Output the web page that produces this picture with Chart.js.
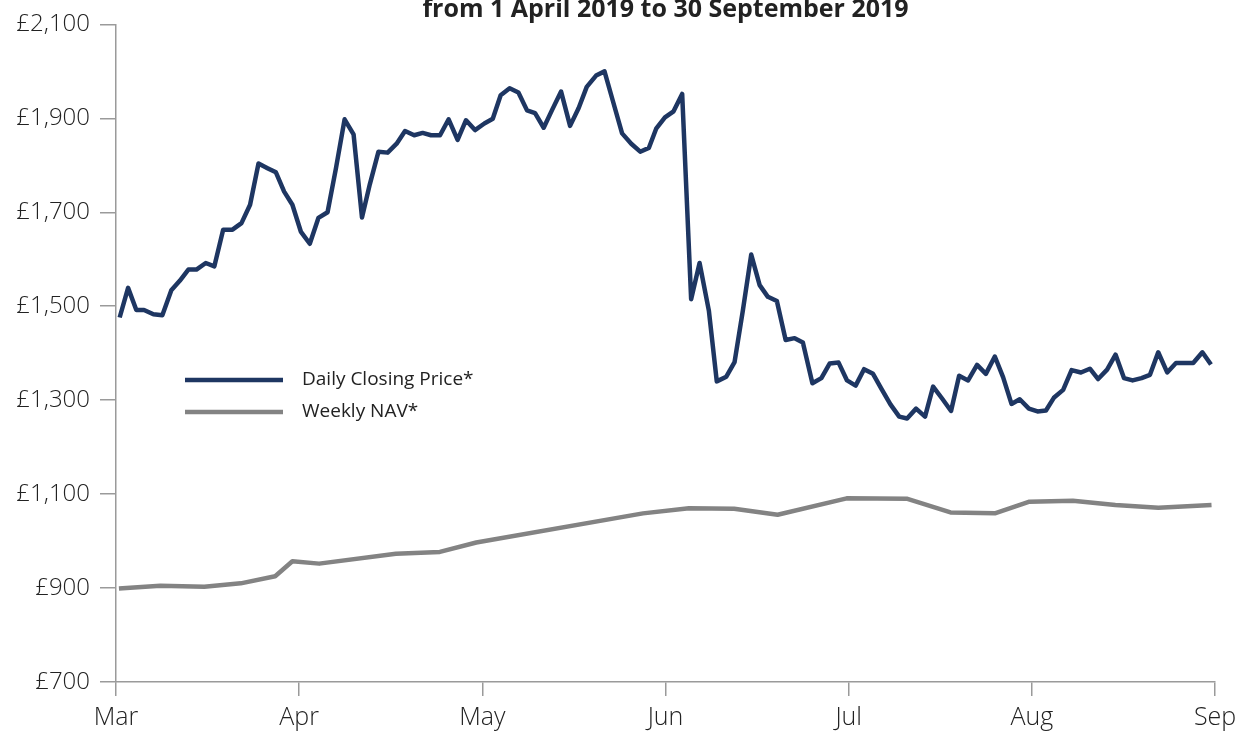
<!DOCTYPE html>
<html>
<head>
<meta charset="utf-8">
<script src="https://cdn.jsdelivr.net/npm/chart.js@4"></script>
<style>
  html, body { margin: 0; padding: 0; background: #fff; }
  #wrap { width: 1253px; height: 731px; position: relative; overflow: hidden; }
</style>
</head>
<body>
<div id="wrap"><canvas id="chart" width="1253" height="731"></canvas></div>
<script>
const monthLabels = ['Mar', 'Apr', 'May', 'Jun', 'Jul', 'Aug', 'Sep'];
const titleText = 'from 1 April 2019 to 30 September 2019';

// x values are months since start of March
const dailyX = [0.020,0.066,0.111,0.153,0.204,0.253,0.302,0.348,0.395,0.439,0.490,0.537,0.585,0.636,0.685,0.732,0.778,0.827,0.873,0.918,
  0.963,1.009,1.058,1.105,1.155,1.201,1.248,1.297,1.343,1.386,1.433,1.483,1.532,1.578,1.628,1.674,1.720,1.769,1.816,1.865,
  1.911,1.960,2.011,2.057,2.100,2.149,2.197,2.244,2.288,2.335,2.381,2.430,2.479,2.526,2.570,2.621,2.667,2.712,2.763,2.813,
  2.862,2.909,2.949,2.997,3.044,3.091,3.140,3.186,3.237,3.280,3.332,3.377,3.422,3.468,3.514,3.559,3.608,3.656,3.705,3.750,
  3.802,3.851,3.896,3.945,3.991,4.038,4.084,4.133,4.179,4.228,4.276,4.319,4.368,4.417,4.461,4.511,4.559,4.603,4.652,4.701,
  4.749,4.798,4.843,4.889,4.934,4.984,5.031,5.077,5.120,5.171,5.217,5.268,5.317,5.362,5.411,5.457,5.503,5.550,5.599,5.645,
  5.690,5.739,5.787,5.836,5.881,5.931,5.978];
const dailyPrice = [1476,1539,1492,1492,1483,1481,1534,1554,1578,1578,1592,1585,1663,1663,1677,1716,1804,1794,1785,1744,
  1716,1659,1633,1688,1700,1794,1898,1866,1689,1760,1829,1827,1846,1873,1864,1869,1864,1864,1898,1854,
  1896,1875,1889,1899,1949,1964,1955,1917,1911,1880,1918,1957,1884,1922,1967,1991,2000,1938,1868,1846,
  1829,1837,1878,1902,1915,1952,1515,1592,1490,1340,1350,1381,1490,1610,1545,1520,1511,1428,1432,1423,
  1336,1347,1378,1380,1342,1331,1366,1356,1324,1291,1265,1261,1282,1265,1329,1303,1277,1352,1342,1375,
  1356,1393,1349,1292,1302,1282,1276,1278,1305,1322,1364,1359,1367,1345,1365,1397,1347,1342,1347,1354,
  1402,1359,1379,1379,1379,1402,1376];

const navX = [0.016,0.242,0.482,0.681,0.869,0.963,1.109,1.528,1.768,1.967,2.877,3.128,3.375,3.612,3.989,4.321,4.556,4.798,4.987,5.224,5.456,5.691,5.981];
const navValue = [899,905,903,910,925,957,952,973,977,997,1059,1070,1069,1056,1091,1090,1061,1059,1084,1086,1077,1071,1077];

const FONT = '"Open Sans", "Noto Sans", sans-serif';
const axisColor = '#9a9a9a';

// title sits above the plot, partly cut by the top edge
const titlePlugin = {
  id: 'topTitle',
  afterDraw(chart) {
    const { ctx, chartArea } = chart;
    ctx.save();
    ctx.font = 'bold 25px ' + FONT;
    ctx.fillStyle = '#222';
    ctx.textAlign = 'center';
    ctx.textBaseline = 'alphabetic';
    ctx.fillText(titleText, (chartArea.left + chartArea.right) / 2, 17);
    ctx.restore();
  }
};

// legend drawn inside the plot area
const innerLegend = {
  id: 'innerLegend',
  afterDraw(chart) {
    const { ctx } = chart;
    ctx.save();
    ctx.font = '19px ' + FONT;
    ctx.textBaseline = 'middle';
    chart.data.datasets.forEach((ds, i) => {
      const y = 380 + i * 32;
      ctx.strokeStyle = ds.borderColor;
      ctx.lineWidth = 4.5;
      ctx.beginPath();
      ctx.moveTo(185, y);
      ctx.lineTo(283, y);
      ctx.stroke();
      ctx.fillStyle = '#222';
      ctx.fillText(ds.label, 302, y);
    });
    ctx.restore();
  }
};

new Chart(document.getElementById('chart'), {
  type: 'line',
  data: {
    datasets: [{
      label: 'Daily Closing Price*',
      data: dailyX.map((x, i) => ({ x: x, y: dailyPrice[i] })),
      borderColor: '#1e3662',
      borderWidth: 4.5,
      pointRadius: 0,
      tension: 0,
      borderJoinStyle: 'round'
    }, {
      label: 'Weekly NAV*',
      data: navX.map((x, i) => ({ x: x, y: navValue[i] })),
      borderColor: '#838383',
      borderWidth: 4.5,
      pointRadius: 0,
      tension: 0,
      borderJoinStyle: 'round'
    }]
  },
  options: {
    responsive: false,
    animation: false,
    layout: { padding: { top: 24, right: 38, left: 0, bottom: 0 } },
    plugins: {
      legend: { display: false },
      tooltip: { enabled: false }
    },
    scales: {
      x: {
        type: 'linear',
        min: 0,
        max: 6,
        afterFit(scale) { scale.height = 49; },
        border: { display: true, color: axisColor, width: 1.5 },
        grid: { drawOnChartArea: false, drawTicks: true, tickLength: 14, color: axisColor, lineWidth: 1.5 },
        ticks: {
          stepSize: 1,
          padding: 7,
          color: '#222',
          font: { family: FONT, size: 25, weight: '300' },
          callback: v => monthLabels[v]
        }
      },
      y: {
        min: 700,
        max: 2100,
        afterFit(scale) { scale.width = 116; },
        border: { display: true, color: axisColor, width: 1.5 },
        grid: { drawOnChartArea: false, drawTicks: true, tickLength: 16, color: axisColor, lineWidth: 1.5 },
        ticks: {
          stepSize: 200,
          padding: 10,
          color: '#222',
          font: { family: FONT, size: 24, weight: '300' },
          callback: v => '£' + v.toLocaleString('en-GB')
        }
      }
    }
  },
  plugins: [titlePlugin, innerLegend]
});
</script>
</body>
</html>
